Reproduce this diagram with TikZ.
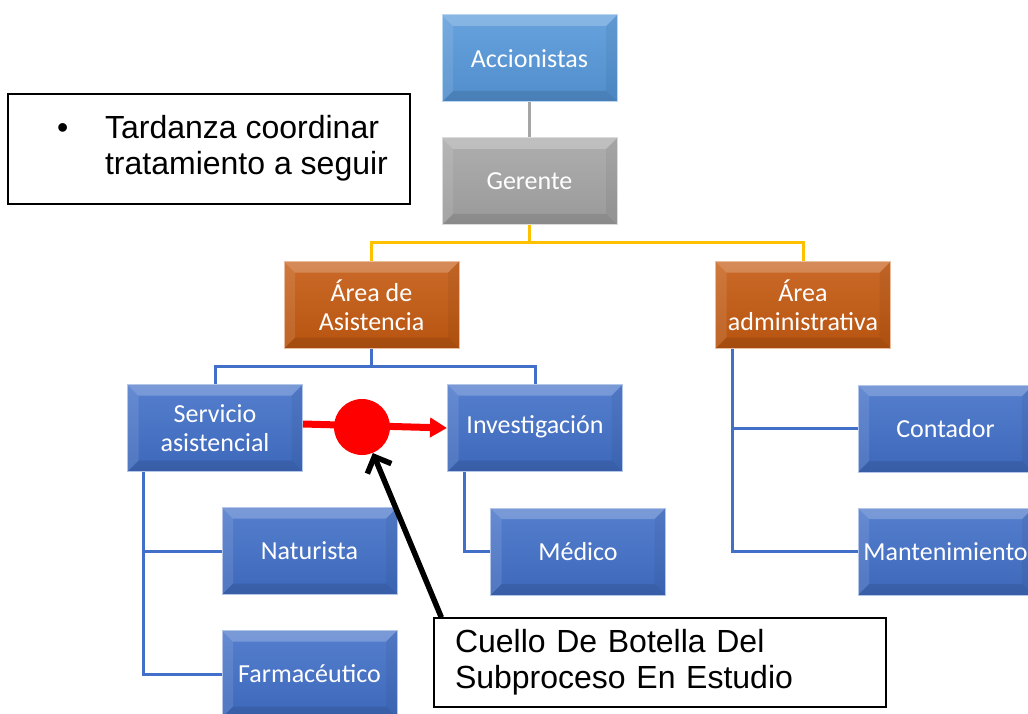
\documentclass[tikz,border=0pt]{standalone}
\usepackage{fontspec}
\setmainfont{Liberation Sans}
\newfontfamily\calibri{Carlito}
\usetikzlibrary{arrows.meta}
\definecolor{celeste}{RGB}{86,152,218}
\definecolor{plomo}{RGB}{165,165,165}
\definecolor{naranja}{RGB}{197,90,17}
\definecolor{azul}{RGB}{66,112,200}
\definecolor{amarillo}{RGB}{255,192,0}

\tikzset{
    cargo/.style={minimum width=175pt, minimum height=87pt, inner sep=0pt, align=center,
        text=white, font=\calibri\fontsize{26}{29}\selectfont,
        draw=#1!40!white, line width=1pt, top color=#1!90!white, bottom color=#1!93!black,
        path picture={
            \fill[white, opacity=0.22] (path picture bounding box.north west) -- (path picture bounding box.north east)
                -- ([shift={(-11pt,-11pt)}]path picture bounding box.north east) -- ([shift={(11pt,-11pt)}]path picture bounding box.north west) -- cycle;
            \fill[white, opacity=0.10] (path picture bounding box.north west) -- ([shift={(11pt,-11pt)}]path picture bounding box.north west)
                -- ([shift={(11pt,11pt)}]path picture bounding box.south west) -- (path picture bounding box.south west) -- cycle;
            \fill[black, opacity=0.10] (path picture bounding box.south west) -- (path picture bounding box.south east)
                -- ([shift={(-11pt,11pt)}]path picture bounding box.south east) -- ([shift={(11pt,11pt)}]path picture bounding box.south west) -- cycle;
            \fill[black, opacity=0.05] (path picture bounding box.north east) -- ([shift={(-11pt,-11pt)}]path picture bounding box.north east)
                -- ([shift={(-11pt,11pt)}]path picture bounding box.south east) -- (path picture bounding box.south east) -- cycle;
        }},
    linea/.style={line width=3pt, color=#1},
    nota/.style={draw=black, line width=1.3pt, fill=white, font=\fontsize{32}{36}\selectfont}
}

\begin{document}
\begin{tikzpicture}[x=1pt, y=-1pt]
    \useasboundingbox (0,0) rectangle (1028,714);

    % Cargos
    \node[cargo=celeste] (acc) at (529.5,58.5) {Accionistas};
    \node[cargo=plomo] (ger) at (529.5,181.5) {Gerente};
    \node[cargo=naranja] (asis) at (371.5,305) {Área de\\Asistencia};
    \node[cargo=naranja] (adm) at (803,305) {Área\\administrativa};
    \node[cargo=azul] (serv) at (215,428) {Servicio\\asistencial};
    \node[cargo=azul] (inv) at (535,428) {Investigación\strut};
    \node[cargo=azul] (nat) at (309.5,551) {Naturista};
    \node[cargo=azul] (farm) at (309.5,674) {Farmacéutico};
    \node[cargo=azul] (med) at (578,551.5) {Médico};
    \node[cargo=azul] (cont) at (945.5,428.5) {Contador};
    \node[cargo=azul] (mant) at (945.5,551.5) {Mantenimiento};

    % Lineas del organigrama
    \draw[linea=plomo] (acc) -- (ger);
    \draw[linea=amarillo] (ger.south) -- ++(0,17) -| (asis.north);
    \draw[linea=amarillo] (ger.south) -- ++(0,17) -| (adm.north);
    \draw[linea=azul] (asis.south) -- ++(0,17) -| (serv.north);
    \draw[linea=azul] (asis.south) -- ++(0,17) -| (inv.north);
    \draw[linea=azul] ([xshift=16pt]serv.south west) |- (nat.west);
    \draw[linea=azul] ([xshift=16pt]serv.south west) |- (farm.west);
    \draw[linea=azul] ([xshift=17pt]inv.south west) |- (med.west);
    \draw[linea=azul] ([xshift=17pt]adm.south west) |- (cont.west);
    \draw[linea=azul] ([xshift=17pt]adm.south west) |- (mant.west);

    % Cuello de botella
    \draw[red, line width=7pt, -{Triangle[length=17pt, width=19pt]}] ([yshift=4pt]serv.east) -- (inv.west);
    \node[circle, fill=red, minimum size=56pt, inner sep=0pt] (cuello) at (362,427) {};

    % Notas
    \node[nota, minimum width=402pt, minimum height=110pt, inner sep=0pt] (tard) at (209,149)
        {\hspace*{27pt}\begin{tabular}{@{}p{48pt}@{}l@{}}\textbullet & Tardanza coordinar\\ & tratamiento a seguir\end{tabular}};
    \node[nota, text width=410pt, inner xsep=21pt, minimum height=89pt, align=left] (botella) at (660,662.5)
        {\fontsize{32}{34}\selectfont Cuello De Botella Del\\Subproceso En Estudio};
    \draw[line width=5.5pt, -{Straight Barb[length=13pt, width=26pt]}] ([xshift=8pt]botella.north west) -- (cuello);
\end{tikzpicture}
\end{document}
